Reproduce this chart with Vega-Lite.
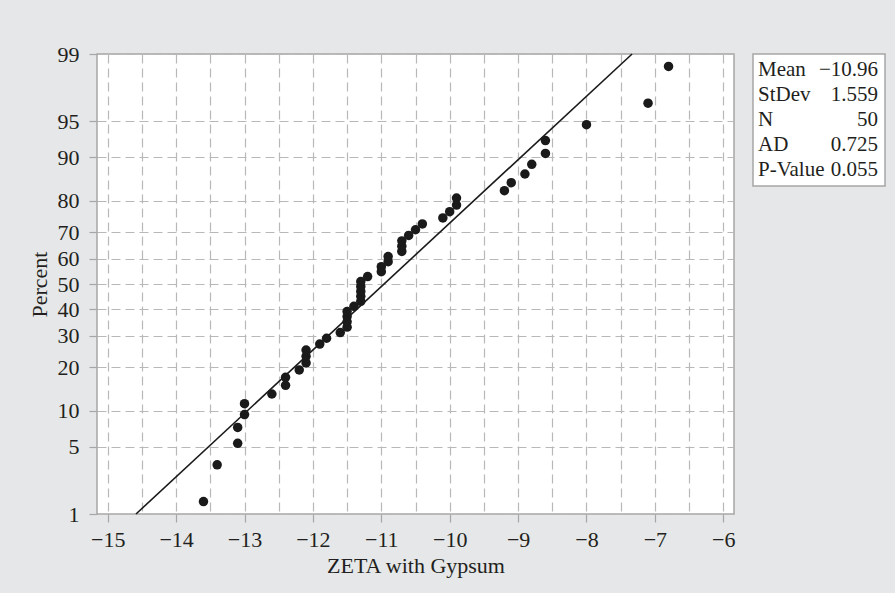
{
  "$schema": "https://vega.github.io/schema/vega-lite/v6.json",
  "autosize": {"type": "pad"},
  "padding": {"left": 27, "top": 42, "right": 9, "bottom": 16},
  "background": "#e6e7e8",
  "config": {
    "font": "Liberation Serif",
    "view": {"stroke": "#a6a6a6", "strokeWidth": 1.5, "fill": "#ffffff"},
    "concat": {"spacing": 16}
  },
  "datasets": {
    "points": [
      {"rank": 1, "x": -13.6, "pct": 1.39, "z": -2.2004},
      {"rank": 2, "x": -13.4, "pct": 3.37, "z": -1.8286},
      {"rank": 3, "x": -13.1, "pct": 5.36, "z": -1.6112},
      {"rank": 4, "x": -13.1, "pct": 7.34, "z": -1.4508},
      {"rank": 5, "x": -13.0, "pct": 9.33, "z": -1.3210},
      {"rank": 6, "x": -13.0, "pct": 11.31, "z": -1.2102},
      {"rank": 7, "x": -12.6, "pct": 13.29, "z": -1.1126},
      {"rank": 8, "x": -12.4, "pct": 15.28, "z": -1.0246},
      {"rank": 9, "x": -12.4, "pct": 17.26, "z": -0.9439},
      {"rank": 10, "x": -12.2, "pct": 19.25, "z": -0.8689},
      {"rank": 11, "x": -12.1, "pct": 21.23, "z": -0.7985},
      {"rank": 12, "x": -12.1, "pct": 23.21, "z": -0.7318},
      {"rank": 13, "x": -12.1, "pct": 25.20, "z": -0.6683},
      {"rank": 14, "x": -11.9, "pct": 27.18, "z": -0.6073},
      {"rank": 15, "x": -11.8, "pct": 29.17, "z": -0.5485},
      {"rank": 16, "x": -11.6, "pct": 31.15, "z": -0.4916},
      {"rank": 17, "x": -11.5, "pct": 33.13, "z": -0.4362},
      {"rank": 18, "x": -11.5, "pct": 35.12, "z": -0.3821},
      {"rank": 19, "x": -11.5, "pct": 37.10, "z": -0.3291},
      {"rank": 20, "x": -11.5, "pct": 39.09, "z": -0.2771},
      {"rank": 21, "x": -11.4, "pct": 41.07, "z": -0.2257},
      {"rank": 22, "x": -11.3, "pct": 43.06, "z": -0.1750},
      {"rank": 23, "x": -11.3, "pct": 45.04, "z": -0.1247},
      {"rank": 24, "x": -11.3, "pct": 47.02, "z": -0.0747},
      {"rank": 25, "x": -11.3, "pct": 49.01, "z": -0.0249},
      {"rank": 26, "x": -11.3, "pct": 50.99, "z": 0.0249},
      {"rank": 27, "x": -11.2, "pct": 52.98, "z": 0.0747},
      {"rank": 28, "x": -11.0, "pct": 54.96, "z": 0.1247},
      {"rank": 29, "x": -11.0, "pct": 56.94, "z": 0.1750},
      {"rank": 30, "x": -10.9, "pct": 58.93, "z": 0.2257},
      {"rank": 31, "x": -10.9, "pct": 60.91, "z": 0.2771},
      {"rank": 32, "x": -10.7, "pct": 62.90, "z": 0.3291},
      {"rank": 33, "x": -10.7, "pct": 64.88, "z": 0.3821},
      {"rank": 34, "x": -10.7, "pct": 66.87, "z": 0.4362},
      {"rank": 35, "x": -10.6, "pct": 68.85, "z": 0.4916},
      {"rank": 36, "x": -10.5, "pct": 70.83, "z": 0.5485},
      {"rank": 37, "x": -10.4, "pct": 72.82, "z": 0.6073},
      {"rank": 38, "x": -10.1, "pct": 74.80, "z": 0.6683},
      {"rank": 39, "x": -10.0, "pct": 76.79, "z": 0.7318},
      {"rank": 40, "x": -9.9, "pct": 78.77, "z": 0.7985},
      {"rank": 41, "x": -9.9, "pct": 80.75, "z": 0.8689},
      {"rank": 42, "x": -9.2, "pct": 82.74, "z": 0.9439},
      {"rank": 43, "x": -9.1, "pct": 84.72, "z": 1.0246},
      {"rank": 44, "x": -8.9, "pct": 86.71, "z": 1.1126},
      {"rank": 45, "x": -8.8, "pct": 88.69, "z": 1.2102},
      {"rank": 46, "x": -8.6, "pct": 90.67, "z": 1.3210},
      {"rank": 47, "x": -8.6, "pct": 92.66, "z": 1.4508},
      {"rank": 48, "x": -8.0, "pct": 94.64, "z": 1.6112},
      {"rank": 49, "x": -7.1, "pct": 96.63, "z": 1.8286},
      {"rank": 50, "x": -6.8, "pct": 98.61, "z": 2.2004}
    ],
    "fit": [
      {"x": -14.5867, "pct": 1, "z": -2.3263},
      {"x": -7.3333, "pct": 99, "z": 2.3263}
    ],
    "stats": [
      {"stat": "Mean", "value": "−10.96"},
      {"stat": "StDev", "value": "1.559"},
      {"stat": "N", "value": "50"},
      {"stat": "AD", "value": "0.725"},
      {"stat": "P-Value", "value": "0.055"}
    ]
  },
  "hconcat": [
    {
      "width": 637,
      "height": 460,
      "layer": [
        {
          "data": {"name": "fit"},
          "mark": {"type": "line", "color": "#1a1a1a", "strokeWidth": 1.6},
          "encoding": {
            "x": {
              "field": "x", "type": "quantitative",
              "scale": {"domain": [-15.157, -5.843], "nice": false, "zero": false},
              "axis": {
                "orient": "bottom",
                "values": [-15, -14.5, -14, -13.5, -13, -12.5, -12, -11.5, -11, -10.5, -10, -9.5, -9, -8.5, -8, -7.5, -7, -6.5, -6],
                "grid": true, "gridDash": [9, 5], "gridColor": "#b8b8b8", "gridWidth": 1.2,
                "ticks": false, "labels": false, "domain": false, "title": null
              }
            },
            "y": {
              "field": "z", "type": "quantitative",
              "scale": {"domain": [-2.3263, 2.3263], "nice": false, "zero": false},
              "axis": {
                "values": [-2.3263, -1.6449, -1.2816, -0.8416, -0.5244, -0.2533, 0, 0.2533, 0.5244, 0.8416, 1.2816, 1.6449, 2.3263],
                "labelExpr": "format(cumulativeNormal(datum.value) * 100, '.0f')",
                "grid": true, "gridDash": [9, 5], "gridColor": "#b8b8b8", "gridWidth": 1.2,
                "domain": false,
                "tickColor": "#a6a6a6", "tickSize": 8, "tickWidth": 1.2,
                "labelPadding": 10, "labelFontSize": 22, "labelColor": "#231f20",
                "title": "Percent", "titleFontSize": 22, "titleFontWeight": "normal",
                "titleColor": "#231f20", "titlePadding": 6
              }
            }
          }
        },
        {
          "data": {"name": "points"},
          "mark": {"type": "circle", "size": 90, "opacity": 1, "color": "#1a1a1a"},
          "encoding": {
            "x": {
              "field": "x", "type": "quantitative",
              "axis": {
                "orient": "bottom",
                "values": [-15, -14, -13, -12, -11, -10, -9, -8, -7, -6],
                "grid": false, "domain": false,
                "tickColor": "#a6a6a6", "tickSize": 8, "tickWidth": 1.2,
                "labelPadding": 7, "labelFontSize": 22, "labelColor": "#231f20",
                "title": "ZETA with Gypsum", "titleFontSize": 22, "titleFontWeight": "normal",
                "titleColor": "#231f20", "titlePadding": 5
              }
            },
            "y": {
              "field": "z", "type": "quantitative",
              "axis": {
                "values": [-2.3263, -1.6449, -1.2816, -0.8416, -0.5244, -0.2533, 0, 0.2533, 0.5244, 0.8416, 1.2816, 1.6449, 2.3263],
                "labelExpr": "format(cumulativeNormal(datum.value) * 100, '.0f')",
                "grid": true, "gridDash": [9, 5], "gridColor": "#b8b8b8", "gridWidth": 1.2,
                "domain": false,
                "tickColor": "#a6a6a6", "tickSize": 8, "tickWidth": 1.2,
                "labelPadding": 10, "labelFontSize": 22, "labelColor": "#231f20",
                "title": "Percent", "titleFontSize": 22, "titleFontWeight": "normal",
                "titleColor": "#231f20", "titlePadding": 6
              }
            }
          }
        }
      ],
      "resolve": {"axis": {"x": "independent"}}
    },
    {
      "width": 132,
      "height": 132,
      "data": {"name": "stats"},
      "layer": [
        {
          "mark": {"type": "text", "align": "left", "baseline": "middle", "fontSize": 21, "color": "#231f20"},
          "encoding": {
            "x": {"datum": 0, "type": "quantitative", "scale": {"domain": [0, 1], "range": [5, 125]}, "axis": null},
            "y": {"field": "stat", "type": "nominal", "sort": null, "scale": {"type": "point", "range": [16, 116], "padding": 0}, "axis": null},
            "text": {"field": "stat"}
          }
        },
        {
          "mark": {"type": "text", "align": "right", "baseline": "middle", "fontSize": 21, "color": "#231f20"},
          "encoding": {
            "x": {"datum": 1, "type": "quantitative", "axis": null},
            "y": {"field": "stat", "type": "nominal", "sort": null, "axis": null},
            "text": {"field": "value"}
          }
        }
      ]
    }
  ]
}
